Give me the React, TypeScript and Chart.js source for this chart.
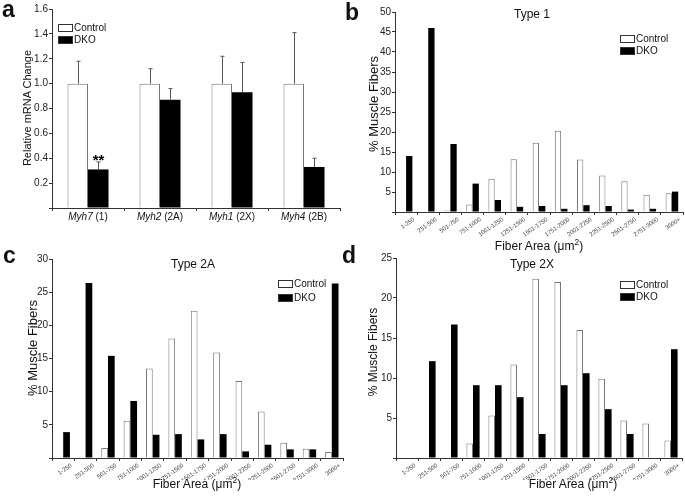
import React, { useEffect, useRef } from 'react';
import { Chart, registerables } from 'chart.js';

Chart.register(...registerables);

const FONT = '"Liberation Sans", Arial, Helvetica, sans-serif';
const AXIS = '#333';

// ---------- Panel a: relative mRNA ----------
const geneLabels = ['Myh7 (1)', 'Myh2 (2A)', 'Myh1 (2X)', 'Myh4 (2B)'];
const mrnaControl = [1.0, 1.0, 1.0, 1.0];
const mrnaControlErr = [0.18, 0.12, 0.22, 0.41];
const mrnaDko = [0.31, 0.87, 0.93, 0.33];
const mrnaDkoErr = [0.06, 0.09, 0.24, 0.07];
const mrnaDkoSig = ['**', '', '', ''];

// ---------- Fiber area bins ----------
const fiberBins = ['1-250', '251-500', '501-750', '751-1000', '1001-1250', '1251-1500', '1501-1750', '1751-2000', '2001-2250', '2251-2500', '2501-2750', '2751-3000', '3000+'];

// Panel b: Type 1
const type1Control = [0, 0, 0.4, 1.9, 8.3, 13.2, 17.3, 20.3, 13.1, 9.1, 7.7, 4.3, 4.7];
const type1Dko = [14, 46, 17, 7.1, 3.0, 1.3, 1.5, 0.8, 1.7, 1.5, 0.6, 0.8, 5.1];

// Panel c: Type 2A
const type2aControl = [0, 0.2, 1.5, 5.6, 13.5, 18.0, 22.2, 15.9, 11.6, 7.0, 2.3, 1.4, 0.9];
const type2aDko = [3.9, 26.4, 15.4, 8.6, 3.5, 3.6, 2.8, 3.6, 1.0, 2.0, 1.3, 1.3, 26.3];

// Panel d: Type 2X
const type2xControl = [0, 0, 0, 1.8, 5.3, 11.7, 22.4, 22.0, 16.0, 9.9, 4.7, 4.3, 2.2];
const type2xDko = [0, 12.1, 16.7, 9.1, 9.1, 7.6, 3.0, 9.1, 10.6, 6.1, 3.0, 0, 13.6];

type Spec = {
  labels: string[];
  control: number[];
  dko: number[];
  controlErr?: number[];
  dkoErr?: number[];
  dkoSig?: string[];
  yMax: number;
  yStep: number;
  yDec: number;
  left: number;
  top: number;
  width: number;
  height: number;
  yW: number;
  xH: number;
  padTop: number;
  padRight: number;
  rotated: boolean;
  catPct: number;
};

const errPlugin = {
  id: 'errBars',
  afterDatasetsDraw(chart: any, _args: any, opts: any) {
    if (!opts || !opts.errors) return;
    const ctx = chart.ctx;
    const ys = chart.scales.y;
    ctx.save();
    ctx.strokeStyle = '#555';
    ctx.lineWidth = 1;
    chart.data.datasets.forEach((ds: any, di: number) => {
      const errs = opts.errors[di];
      if (!errs) return;
      const meta = chart.getDatasetMeta(di);
      meta.data.forEach((bar: any, i: number) => {
        const v = ds.data[i];
        const e = errs[i];
        const x = Math.round(bar.x) + 0.5;
        const yTop = ys.getPixelForValue(v + e);
        ctx.beginPath();
        ctx.moveTo(x, bar.y);
        ctx.lineTo(x, yTop);
        ctx.moveTo(x - 2, yTop);
        ctx.lineTo(x + 2, yTop);
        ctx.stroke();
        const sig = opts.sig && opts.sig[di] ? opts.sig[di][i] : '';
        if (sig) {
          ctx.fillStyle = '#000';
          ctx.font = `bold 15px ${FONT}`;
          ctx.textAlign = 'center';
          ctx.textBaseline = 'alphabetic';
          ctx.fillText(sig, x, yTop + 3);
        }
      });
    });
    ctx.restore();
  },
};

const italicTickPlugin = {
  id: 'italicTicks',
  afterDraw(chart: any, _args: any, opts: any) {
    if (!opts || !opts.enabled) return;
    const xs = chart.scales.x;
    const ctx = chart.ctx;
    ctx.save();
    ctx.fillStyle = '#111';
    ctx.textBaseline = 'middle';
    ctx.textAlign = 'left';
    const y = xs.top + opts.dy;
    (chart.data.labels as string[]).forEach((lab, i) => {
      const sp = lab.indexOf(' ');
      const it = lab.slice(0, sp);
      const rest = lab.slice(sp);
      ctx.font = `italic 10px ${FONT}`;
      const w1 = ctx.measureText(it).width;
      ctx.font = `10px ${FONT}`;
      const w2 = ctx.measureText(rest).width;
      const x0 = xs.getPixelForValue(i) - (w1 + w2) / 2;
      ctx.font = `italic 10px ${FONT}`;
      ctx.fillText(it, x0, y);
      ctx.font = `10px ${FONT}`;
      ctx.fillText(rest, x0 + w1, y);
    });
    ctx.restore();
  },
};

function buildConfig(s: Spec): any {
  return {
    type: 'bar',
    data: {
      labels: s.labels,
      datasets: [
        {
          label: 'Control',
          data: s.control,
          backgroundColor: '#ffffff',
          borderColor: '#777',
          borderWidth: 1,
          borderSkipped: 'bottom',
          categoryPercentage: s.catPct,
          barPercentage: 1,
        },
        {
          label: 'DKO',
          data: s.dko,
          backgroundColor: '#000000',
          borderWidth: 0,
          categoryPercentage: s.catPct,
          barPercentage: 1,
        },
      ],
    },
    options: {
      animation: false,
      responsive: false,
      devicePixelRatio: 1,
      layout: { padding: { top: s.padTop, right: s.padRight, left: 0, bottom: 0 } },
      plugins: {
        legend: { display: false },
        tooltip: { enabled: false },
        title: { display: false },
        errBars: s.controlErr ? { errors: [s.controlErr, s.dkoErr], sig: [null, s.dkoSig] } : {},
        italicTicks: { enabled: !s.rotated, dy: 9.5 },
      },
      scales: {
        x: {
          grid: { display: true, drawOnChartArea: false, drawTicks: true, tickLength: 3, color: AXIS, offset: true },
          border: { display: true, color: AXIS, width: 1 },
          ticks: s.rotated
            ? {
                display: true,
                minRotation: 35,
                maxRotation: 35,
                autoSkip: false,
                font: { family: FONT, size: 6 },
                color: '#444',
                labelOffset: 8,
                padding: 1,
              }
            : { display: false },
          afterFit: (sc: any) => {
            sc.height = s.xH;
          },
        },
        y: {
          min: 0,
          max: s.yMax,
          grid: { display: true, drawOnChartArea: false, drawTicks: true, tickLength: 3, color: AXIS },
          border: { display: true, color: AXIS, width: 1 },
          ticks: {
            stepSize: s.yStep,
            callback: (v: any) => (Number(v) === 0 ? '' : Number(v).toFixed(s.yDec)),
            font: { family: FONT, size: 10 },
            color: '#222',
            padding: 1,
          },
          afterFit: (sc: any) => {
            sc.width = s.yW;
          },
        },
      },
    },
    plugins: [errPlugin, italicTickPlugin],
  };
}

const specA: Spec = {
  labels: geneLabels, control: mrnaControl, dko: mrnaDko,
  controlErr: mrnaControlErr, dkoErr: mrnaDkoErr, dkoSig: mrnaDkoSig,
  yMax: 1.6, yStep: 0.2, yDec: 1,
  left: 0, top: 0, width: 345, height: 230, yW: 52, xH: 22, padTop: 9, padRight: 5,
  rotated: false, catPct: 0.57,
};
const specB: Spec = {
  labels: fiberBins, control: type1Control, dko: type1Dko,
  yMax: 50, yStep: 5, yDec: 0,
  left: 345, top: 0, width: 340, height: 240, yW: 50, xH: 28, padTop: 12, padRight: 2,
  rotated: true, catPct: 0.57,
};
const specC: Spec = {
  labels: fiberBins, control: type2aControl, dko: type2aDko,
  yMax: 30, yStep: 5, yDec: 0,
  left: 0, top: 248, width: 345, height: 232, yW: 52, xH: 22, padTop: 11, padRight: 2,
  rotated: true, catPct: 0.6,
};
const specD: Spec = {
  labels: fiberBins, control: type2xControl, dko: type2xDko,
  yMax: 25, yStep: 5, yDec: 0,
  left: 345, top: 248, width: 340, height: 232, yW: 51, xH: 22, padTop: 10, padRight: 3,
  rotated: true, catPct: 0.6,
};

function BarChart({ spec }: { spec: Spec }) {
  const ref = useRef<HTMLCanvasElement>(null);
  useEffect(() => {
    const chart = new Chart(ref.current as HTMLCanvasElement, buildConfig(spec));
    return () => chart.destroy();
  }, []);
  return (
    <canvas
      ref={ref}
      width={spec.width}
      height={spec.height}
      style={{ position: 'absolute', left: spec.left, top: spec.top, width: spec.width, height: spec.height }}
    />
  );
}

function Txt(props: { x: number; y: number; size: number; bold?: boolean; rotate?: boolean; left?: boolean; children: React.ReactNode }) {
  const { x, y, size, bold, rotate, left, children } = props;
  return (
    <div
      style={{
        position: 'absolute',
        left: x,
        top: y,
        transform: `translate(${left ? '0' : '-50%'},-50%)${rotate ? ' rotate(-90deg)' : ''}`,
        fontFamily: FONT,
        fontSize: size,
        fontWeight: bold ? 700 : 400,
        whiteSpace: 'nowrap',
        lineHeight: 1,
        color: '#111',
      }}
    >
      {children}
    </div>
  );
}

function Legend({ x, y1, y2 }: { x: number; y1: number; y2: number }) {
  const item = (y: number, filled: boolean, label: string) => (
    <React.Fragment key={label}>
      <div
        style={{
          position: 'absolute',
          left: x,
          top: y - 4,
          width: 15,
          height: 8,
          boxSizing: 'border-box',
          border: '1px solid #333',
          background: filled ? '#000' : '#fff',
        }}
      />
      <Txt x={x + 16} y={y} size={10} left>
        {label}
      </Txt>
    </React.Fragment>
  );
  return (
    <>
      {item(y1, false, 'Control')}
      {item(y2, true, 'DKO')}
    </>
  );
}

const fiberTitle = (
  <>
    Fiber Area (μm<sup style={{ fontSize: '0.7em', verticalAlign: 'super', lineHeight: 0 }}>2</sup>)
  </>
);

export default function App() {
  return (
    <div style={{ position: 'fixed', left: 0, top: 0, width: 685, height: 501, background: '#fff', overflow: 'hidden' }}>
      <BarChart spec={specA} />
      <BarChart spec={specB} />
      <BarChart spec={specC} />
      <BarChart spec={specD} />

      {/* panel letters */}
      <Txt x={2} y={9} size={23} bold left>a</Txt>
      <Txt x={345} y={12} size={23} bold left>b</Txt>
      <Txt x={3} y={255} size={23} bold left>c</Txt>
      <Txt x={342} y={255} size={23} bold left>d</Txt>

      {/* panel titles */}
      <Txt x={532} y={14} size={12}>Type 1</Txt>
      <Txt x={193} y={264} size={12}>Type 2A</Txt>
      <Txt x={532} y={264} size={12}>Type 2X</Txt>

      {/* y-axis titles */}
      <Txt x={27} y={108} size={11} rotate>Relative mRNA Change</Txt>
      <Txt x={373} y={104} size={13} rotate>% Muscle Fibers</Txt>
      <Txt x={32} y={348} size={13} rotate>% Muscle Fibers</Txt>
      <Txt x={373} y={352} size={12} rotate>% Muscle Fibers</Txt>

      {/* x-axis titles */}
      <Txt x={539} y={246} size={12}>{fiberTitle}</Txt>
      <Txt x={197} y={484} size={12}>{fiberTitle}</Txt>
      <Txt x={573} y={484} size={12}>{fiberTitle}</Txt>

      {/* legends */}
      <Legend x={58} y1={28} y2={39.5} />
      <Legend x={620} y1={39} y2={50.7} />
      <Legend x={278} y1={284.3} y2={297.7} />
      <Legend x={620} y1={284.7} y2={296.7} />
    </div>
  );
}
